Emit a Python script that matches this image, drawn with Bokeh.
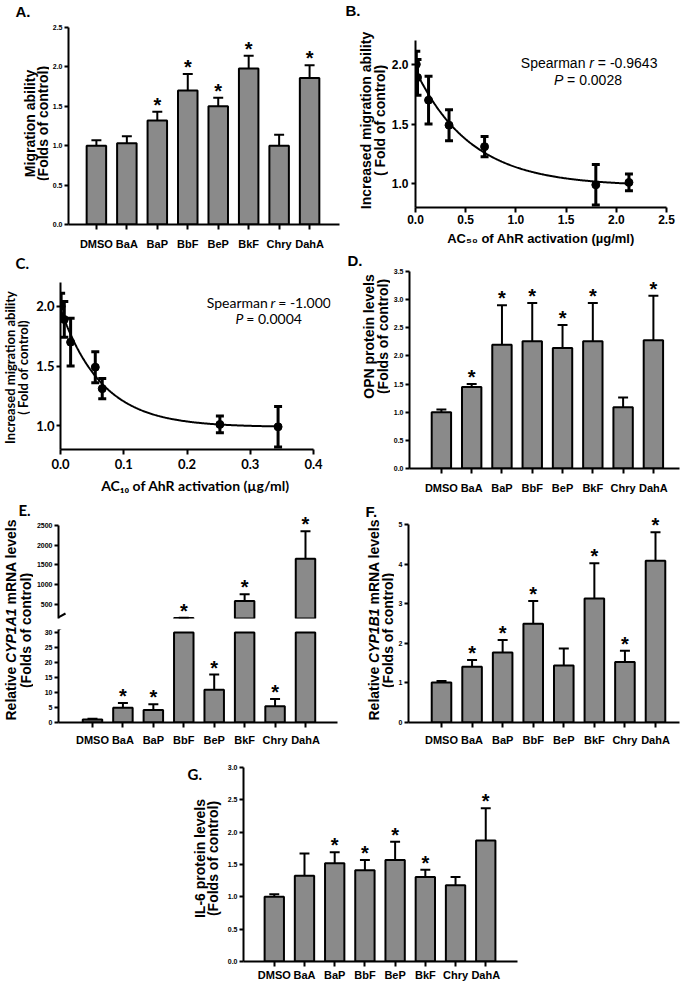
import math
import numpy as np
from bokeh.plotting import figure
from bokeh.models import (Range1d, FixedTicker, PrintfTickFormatter, Label, LabelSet,
                          ColumnDataSource, Arrow, Spacer)
from bokeh.layouts import row, column
from bokeh.core.properties import value
from bokeh.embed import file_html
from bokeh.resources import INLINE

# ---------------- data ----------------
groups = ["DMSO", "BaA", "BaP", "BbF", "BeP", "BkF", "Chry", "DahA"]

# A. migration ability (folds of control)
mig_mean = [1.00, 1.03, 1.32, 1.70, 1.50, 1.98, 1.00, 1.86]
mig_err = [0.07, 0.09, 0.11, 0.21, 0.11, 0.16, 0.14, 0.16]
mig_sig = [0, 0, 1, 1, 1, 1, 0, 1]

# B./C. increased migration vs AhR activation
pahs = ["BaA", "BaP", "BbF", "BeP", "BkF", "Chry", "DahA"]
inc_mean = [1.01, 1.31, 1.70, 1.49, 2.00, 0.99, 1.89]
inc_err = [0.07, 0.085, 0.20, 0.13, 0.11, 0.17, 0.15]
ac50 = [2.126, 0.688, 0.13, 0.334, 0.008, 1.796, 0.02]
ac10 = [0.252, 0.066, 0.016, 0.055, 0.001, 0.344, 0.006]

# D. OPN protein levels
opn_mean = [1.00, 1.45, 2.20, 2.26, 2.14, 2.26, 1.09, 2.28]
opn_err = [0.05, 0.05, 0.70, 0.68, 0.41, 0.68, 0.17, 0.79]
opn_sig = [0, 1, 1, 1, 1, 1, 0, 1]

# E. CYP1A1 mRNA
cyp1a1_mean = [1.0, 4.9, 4.2, 150, 10.9, 585, 5.4, 1650]
cyp1a1_err = [0.25, 1.6, 1.9, 12, 5.1, 170, 2.4, 700]
cyp1a1_sig = [0, 1, 1, 1, 1, 1, 1, 1]

# F. CYP1B1 mRNA
cyp1b1_mean = [1.01, 1.41, 1.77, 2.49, 1.44, 3.13, 1.53, 4.08]
cyp1b1_err = [0.04, 0.17, 0.31, 0.58, 0.43, 0.89, 0.28, 0.72]
cyp1b1_sig = [0, 1, 1, 1, 0, 1, 1, 1]

# G. IL-6 protein levels
il6_mean = [1.00, 1.325, 1.52, 1.41, 1.57, 1.305, 1.18, 1.87]
il6_err = [0.04, 0.345, 0.17, 0.16, 0.28, 0.115, 0.125, 0.50]
il6_sig = [0, 0, 1, 1, 1, 1, 0, 1]

# ticks
A_yticks = [0.0, 0.5, 1.0, 1.5, 2.0, 2.5]
B_xticks = [0.0, 0.5, 1.0, 1.5, 2.0, 2.5]
BC_yticks = [1.0, 1.5, 2.0]
C_xticks = [0.0, 0.1, 0.2, 0.3, 0.4]
D_yticks = [0.0, 0.5, 1.0, 1.5, 2.0, 2.5, 3.0, 3.5]
E_top_ticks = [500, 1000, 1500, 2000, 2500]
E_bot_ticks = [0, 5, 10, 15, 20, 25, 30]
F_yticks = [0, 1, 2, 3, 4, 5]
G_yticks = [0.0, 0.5, 1.0, 1.5, 2.0, 2.5, 3.0]

# ---------------- style ----------------
ARIAL = "Liberation Sans"
CAL = "Lato"
BAR_FILL = "#8a8a8a"
BAR_W = 0.64
PI2 = math.pi / 2


class Geo:
    def __init__(self, w, h, fl, ft, fw, fh, x0, x1, y0, y1):
        self.w, self.h = w, h
        self.fl, self.ft, self.fw, self.fh = fl, ft, fw, fh
        self.x0, self.x1, self.y0, self.y1 = x0, x1, y0, y1

    def x(self, px):
        return self.x0 + (px - self.fl) * (self.x1 - self.x0) / self.fw

    def y(self, py):
        return self.y1 - (py - self.ft) * (self.y1 - self.y0) / self.fh

    def dx(self, pix):
        return pix * (self.x1 - self.x0) / self.fw


def no_align(p):
    try:
        p.frame_align = False
    except Exception:
        pass


def make_fig(g, xaxis=True, yaxis=True):
    p = figure(width=g.w, height=g.h, x_range=Range1d(g.x0, g.x1), y_range=Range1d(g.y0, g.y1),
               output_backend="svg", toolbar_location=None,
               min_border_left=g.fl, min_border_top=g.ft,
               min_border_right=g.w - g.fl - g.fw, min_border_bottom=g.h - g.ft - g.fh,
               x_axis_location="below" if xaxis else None,
               y_axis_location="left" if yaxis else None)
    p.outline_line_color = None
    p.grid.visible = False
    p.background_fill_color = "white"
    p.border_fill_color = "white"
    no_align(p)
    return p


def text_fig(w, h):
    g = Geo(w, h, 0, 0, w, h, 0, w, h, 0)
    p = figure(width=w, height=h, x_range=Range1d(0, w), y_range=Range1d(h, 0),
               output_backend="svg", toolbar_location=None, min_border=0,
               x_axis_location=None, y_axis_location=None)
    p.outline_line_color = None
    p.grid.visible = False
    no_align(p)
    return p, g


def style_axis(ax, ticks, fmt=None, overrides=None, size=7, font=ARIAL, tick_out=4, standoff=2):
    ax.ticker = FixedTicker(ticks=ticks)
    if fmt:
        ax.formatter = PrintfTickFormatter(format=fmt)
    if overrides:
        ax.major_label_overrides = overrides
    ax.axis_line_width = 2
    ax.axis_line_color = "black"
    ax.major_tick_line_width = 2
    ax.major_tick_line_color = "black"
    ax.major_tick_in = 0
    ax.major_tick_out = tick_out
    ax.minor_tick_line_color = None
    ax.major_label_text_font = font
    ax.major_label_text_font_style = "bold"
    ax.major_label_text_font_size = f"{size}px"
    ax.major_label_text_color = "black"
    ax.major_label_standoff = standoff


def axis_title(ax, text, size, font=ARIAL, standoff=4):
    ax.axis_label = text
    ax.axis_label_text_font = font
    ax.axis_label_text_font_style = "bold"
    ax.axis_label_text_font_size = f"{size}px"
    ax.axis_label_text_color = "black"
    ax.axis_label_standoff = standoff


def label(p, g, px, py, text, size, font=ARIAL, style="bold", align="left",
          baseline="middle", angle=0.0):
    p.add_layout(Label(x=g.x(px), y=g.y(py), text=text, text_font=font,
                       text_font_style=style, text_font_size=f"{size}px",
                       text_align=align, text_baseline=baseline, angle=angle,
                       text_color="black"))


def cat_axis(p, standoff):
    ov = {i + 1: name for i, name in enumerate(groups)}
    style_axis(p.xaxis[0], list(range(1, len(groups) + 1)), overrides=ov, size=11,
               tick_out=5, standoff=standoff)


def errbars(p, g, xs, base, tops, width=2, cap_px=5):
    p.segment(x0=xs, y0=base, x1=xs, y1=tops, line_width=width, line_color="black")
    hw = g.dx(cap_px)
    p.segment(x0=[x - hw for x in xs], y0=tops, x1=[x + hw for x in xs], y1=tops,
              line_width=width, line_color="black")


def stars(p, xs, tops, sig):
    sx = [x for x, s in zip(xs, sig) if s]
    sy = [t for t, s in zip(tops, sig) if s]
    src = ColumnDataSource(dict(x=sx, y=sy, t=["*"] * len(sx)))
    p.add_layout(LabelSet(x="x", y="y", text="t", source=src, text_font=value(ARIAL),
                          text_font_style="bold", text_font_size="20px", text_align="center",
                          text_baseline="alphabetic", text_color="black"))


def bar_panel(p, g, mean, err, sig):
    xs = list(range(1, len(mean) + 1))
    tops = [m + e for m, e in zip(mean, err)]
    p.vbar(x=xs, top=mean, bottom=0, width=BAR_W, fill_color=BAR_FILL,
           line_color="black", line_width=2)
    errbars(p, g, xs, mean, tops)
    stars(p, xs, tops, sig)


def decay_fit(x, y):
    x = np.asarray(x, float)
    y = np.asarray(y, float)
    best = None
    for k in np.geomspace(0.05, 500, 4000):
        M = np.column_stack([np.ones_like(x), np.exp(-k * x)])
        coef, *_ = np.linalg.lstsq(M, y, rcond=None)
        sse = float(((M @ coef - y) ** 2).sum())
        if best is None or sse < best[0]:
            best = (sse, k, coef)
    return best[1], best[2]


def scatter_panel(p, g, xs, ys, es):
    lo = [y - e for y, e in zip(ys, es)]
    hi = [y + e for y, e in zip(ys, es)]
    p.segment(x0=xs, y0=lo, x1=xs, y1=hi, line_width=3, line_color="black")
    hw = g.dx(4)
    for ends in (lo, hi):
        p.segment(x0=[x - hw for x in xs], y0=ends, x1=[x + hw for x in xs], y1=ends,
                  line_width=3, line_color="black")
    k, (a, b) = decay_fit(xs, ys)
    cx = np.linspace(min(xs), max(xs), 300)
    p.line(cx, a + b * np.exp(-k * cx), line_width=2, line_color="black")
    p.scatter(xs, ys, size=8, color="black")


def gene_title(p, g, px, py_bottom, gene, size=14):
    w_rel = 4.113 * size
    w_gene = 3.89 * size
    w_sp = 0.278 * size
    label(p, g, px, py_bottom, "Relative", size, angle=PI2)
    label(p, g, px, py_bottom - w_rel, gene, size, style="bold italic", angle=PI2)
    label(p, g, px, py_bottom - w_rel - w_gene - w_sp, "mRNA levels", size, angle=PI2)


# ================= Row 1 : A, B =================
tA, gtA = text_fig(49, 252)
label(tA, gtA, 15, 11, "A.", 15)
label(tA, gtA, 29, 123, "Migration ability", 14, align="center", angle=PI2)
label(tA, gtA, 42, 123, "(Folds of control)", 14, align="center", angle=PI2)

gA = Geo(291, 252, 18, 27, 272, 199, 0.084, 8.982, 0, 2.5)
pA = make_fig(gA)
style_axis(pA.yaxis[0], A_yticks, fmt="%.1f")
cat_axis(pA, 8)
bar_panel(pA, gA, mig_mean, mig_err, mig_sig)

tB, gtB = text_fig(48, 252)
label(tB, gtB, 5, 10, "B.", 15)
label(tB, gtB, 25, 120, "Increased migration ability", 14, align="center", angle=PI2)
label(tB, gtB, 39, 120, "( Fold of control)", 14, align="center", angle=PI2)

gB = Geo(292, 252, 26, 40, 252, 167, 0.0, 2.5, 0.8, 2.2)
pB = make_fig(gB)
style_axis(pB.yaxis[0], BC_yticks, fmt="%.1f", size=12, tick_out=4, standoff=3)
style_axis(pB.xaxis[0], B_xticks, fmt="%.1f", size=12, tick_out=5, standoff=2)
axis_title(pB.xaxis[0], "AC\u2085\u2080 of AhR activation (\u00b5g/ml)", 13, standoff=4)
scatter_panel(pB, gB, ac50, inc_mean, inc_err)
rx = 200.5
label(pB, gB, rx - 3.9, 62, "Spearman", 14, style="normal", align="right")
label(pB, gB, rx, 62, "r", 14, style="italic")
label(pB, gB, rx + 8.6, 62, "= -0.9643", 14, style="normal")
label(pB, gB, 165, 79, "P", 14, style="italic")
label(pB, gB, 178.2, 79, "= 0.0028", 14, style="normal")

# ================= Row 2 : C, D =================
tC, gtC = text_fig(30, 244)
label(tC, gtC, 15, 10, "C.", 15, font=CAL)
label(tC, gtC, 9, 115, "Increased migration ability", 13, font=CAL, align="center", angle=PI2)
label(tC, gtC, 22, 115, "( Fold of control)", 13, font=CAL, align="center", angle=PI2)

gC = Geo(310, 244, 30, 30, 270, 168, 0.0, 0.4 * 270 / 253, 0.8, 2.2)
pC = make_fig(gC)
style_axis(pC.yaxis[0], BC_yticks, fmt="%.1f", size=13, font=CAL, tick_out=4, standoff=2)
style_axis(pC.xaxis[0], C_xticks, fmt="%.1f", size=13, font=CAL, tick_out=5, standoff=4)
pC.xaxis[0].bounds = (C_xticks[0], C_xticks[-1])
axis_title(pC.xaxis[0], "AC\u2081\u2080 of AhR activation (\u00b5g/ml)", 14, font=CAL, standoff=5)
scatter_panel(pC, gC, ac10, inc_mean, inc_err)
rc = 240
label(pC, gC, rc - 2.7, 50, "Spearman", 14, font=CAL, style="normal", align="right")
label(pC, gC, rc, 50, "r", 14, font=CAL, style="italic")
label(pC, gC, rc + 7.7, 50, "= -1.000", 14, font=CAL, style="normal")
label(pC, gC, 205, 66, "P", 14, font=CAL, style="italic")
label(pC, gC, 215.8, 66, "= 0.0004", 14, font=CAL, style="normal")

tD, gtD = text_fig(50, 244)
label(tD, gtD, 7, 8, "D.", 15)
label(tD, gtD, 28, 84, "OPN protein levels", 14, align="center", angle=PI2)
label(tD, gtD, 42, 84, "(Folds of control)", 14, align="center", angle=PI2)

gD = Geo(290, 244, 18, 19, 271, 198, -0.053, 8.862, 0, 3.5)
pD = make_fig(gD)
style_axis(pD.yaxis[0], D_yticks, fmt="%.1f")
cat_axis(pD, 8)
bar_panel(pD, gD, opn_mean, opn_err, opn_sig)

# ================= Row 3 : E (broken axis), F =================
tE, gtE = text_fig(33, 252)
label(tE, gtE, 18, 13, "E.", 15, font=CAL)
gene_title(tE, gtE, 10, 224, "CYP1A1")
label(tE, gtE, 25, 134, "(Folds of control)", 14, align="center", angle=PI2)

E_top_lo, E_top_hi = 140, 2500
E_break = 30
E_ppu = 0.0395
gE1 = Geo(307, 126, 25, 4, 279, 118, -0.117, 9.052, E_top_lo, E_top_lo + 118 / E_ppu)
gE2 = Geo(307, 126, 25, 7, 279, 95, -0.117, 9.052, 0, 31)
pE1 = make_fig(gE1, xaxis=False)
pE2 = make_fig(gE2)
pE2.x_range = pE1.x_range
style_axis(pE1.yaxis[0], E_top_ticks, fmt="%d")
pE1.yaxis[0].bounds = (E_top_lo, E_top_hi)
style_axis(pE2.yaxis[0], E_bot_ticks, fmt="%d")
cat_axis(pE2, 6)

xsE = list(range(1, len(cyp1a1_mean) + 1))
topsE = [m + e for m, e in zip(cyp1a1_mean, cyp1a1_err)]
big = [m > E_break for m in cyp1a1_mean]
# lower segment: bars clipped at the break
pE2.vbar(x=xsE, top=[min(m, E_break) for m in cyp1a1_mean], bottom=0, width=BAR_W,
         fill_color=BAR_FILL, line_color="black", line_width=2)
sm_x = [x for x, b in zip(xsE, big) if not b]
sm_m = [m for m, b in zip(cyp1a1_mean, big) if not b]
sm_t = [t for t, b in zip(topsE, big) if not b]
sm_s = [s for s, b in zip(cyp1a1_sig, big) if not b]
errbars(pE2, gE2, sm_x, sm_m, sm_t)
stars(pE2, sm_x, sm_t, sm_s)
# upper segment
bg_x = [x for x, b in zip(xsE, big) if b]
bg_m = [m for m, b in zip(cyp1a1_mean, big) if b]
bg_t = [t for t, b in zip(topsE, big) if b]
bg_s = [s for s, b in zip(cyp1a1_sig, big) if b]
pE1.vbar(x=bg_x, top=bg_m, bottom=E_top_lo, width=BAR_W, fill_color=BAR_FILL,
         line_color="black", line_width=2)
errbars(pE1, gE1, bg_x, bg_m, bg_t)
stars(pE1, bg_x, bg_t, bg_s)
# break marks on the value axis
pE1.add_layout(Arrow(end=None, x_start=gE1.x(19), y_start=gE1.y(124), x_end=gE1.x(32),
                     y_end=gE1.y(117), line_width=2, line_color="black"))
pE2.add_layout(Arrow(end=None, x_start=gE2.x(19), y_start=gE2.y(11), x_end=gE2.x(32),
                     y_end=gE2.y(3), line_width=2, line_color="black"))

tF, gtF = text_fig(54, 252)
label(tF, gtF, 25, 15, "F.", 15)
gene_title(tF, gtF, 33, 224, "CYP1B1")
label(tF, gtF, 47, 134, "(Folds of control)", 14, align="center", angle=PI2)

gF = Geo(286, 252, 14, 10, 271, 217, -0.0795, 8.785, 0, 5 * 217 / 199)
pF = make_fig(gF)
style_axis(pF.yaxis[0], F_yticks, fmt="%d")
pF.yaxis[0].bounds = (F_yticks[0], F_yticks[-1])
cat_axis(pF, 6)
bar_panel(pF, gF, cyp1b1_mean, cyp1b1_err, cyp1b1_sig)

# ================= Row 4 : G =================
tG, gtG = text_fig(46, 235)
label(tG, gtG, 9, 25, "G.", 15, font=CAL)
label(tG, gtG, 21, 110, "IL-6 protein levels", 14, align="center", angle=PI2)
label(tG, gtG, 34, 110, "(Folds of control)", 14, align="center", angle=PI2)

gG = Geo(310, 235, 17, 19, 276, 195, -0.019, 9.051, 0, 3.0)
pG = make_fig(gG)
style_axis(pG.yaxis[0], G_yticks, fmt="%.1f")
cat_axis(pG, 2)
bar_panel(pG, gG, il6_mean, il6_err, il6_sig)

layout = column(
    row(tA, pA, tB, pB),
    row(tC, pC, tD, pD),
    row(tE, column(pE1, pE2), tF, pF),
    row(Spacer(width=178, height=235), tG, pG),
)

open("out.html", "w").write(file_html(layout, INLINE))
